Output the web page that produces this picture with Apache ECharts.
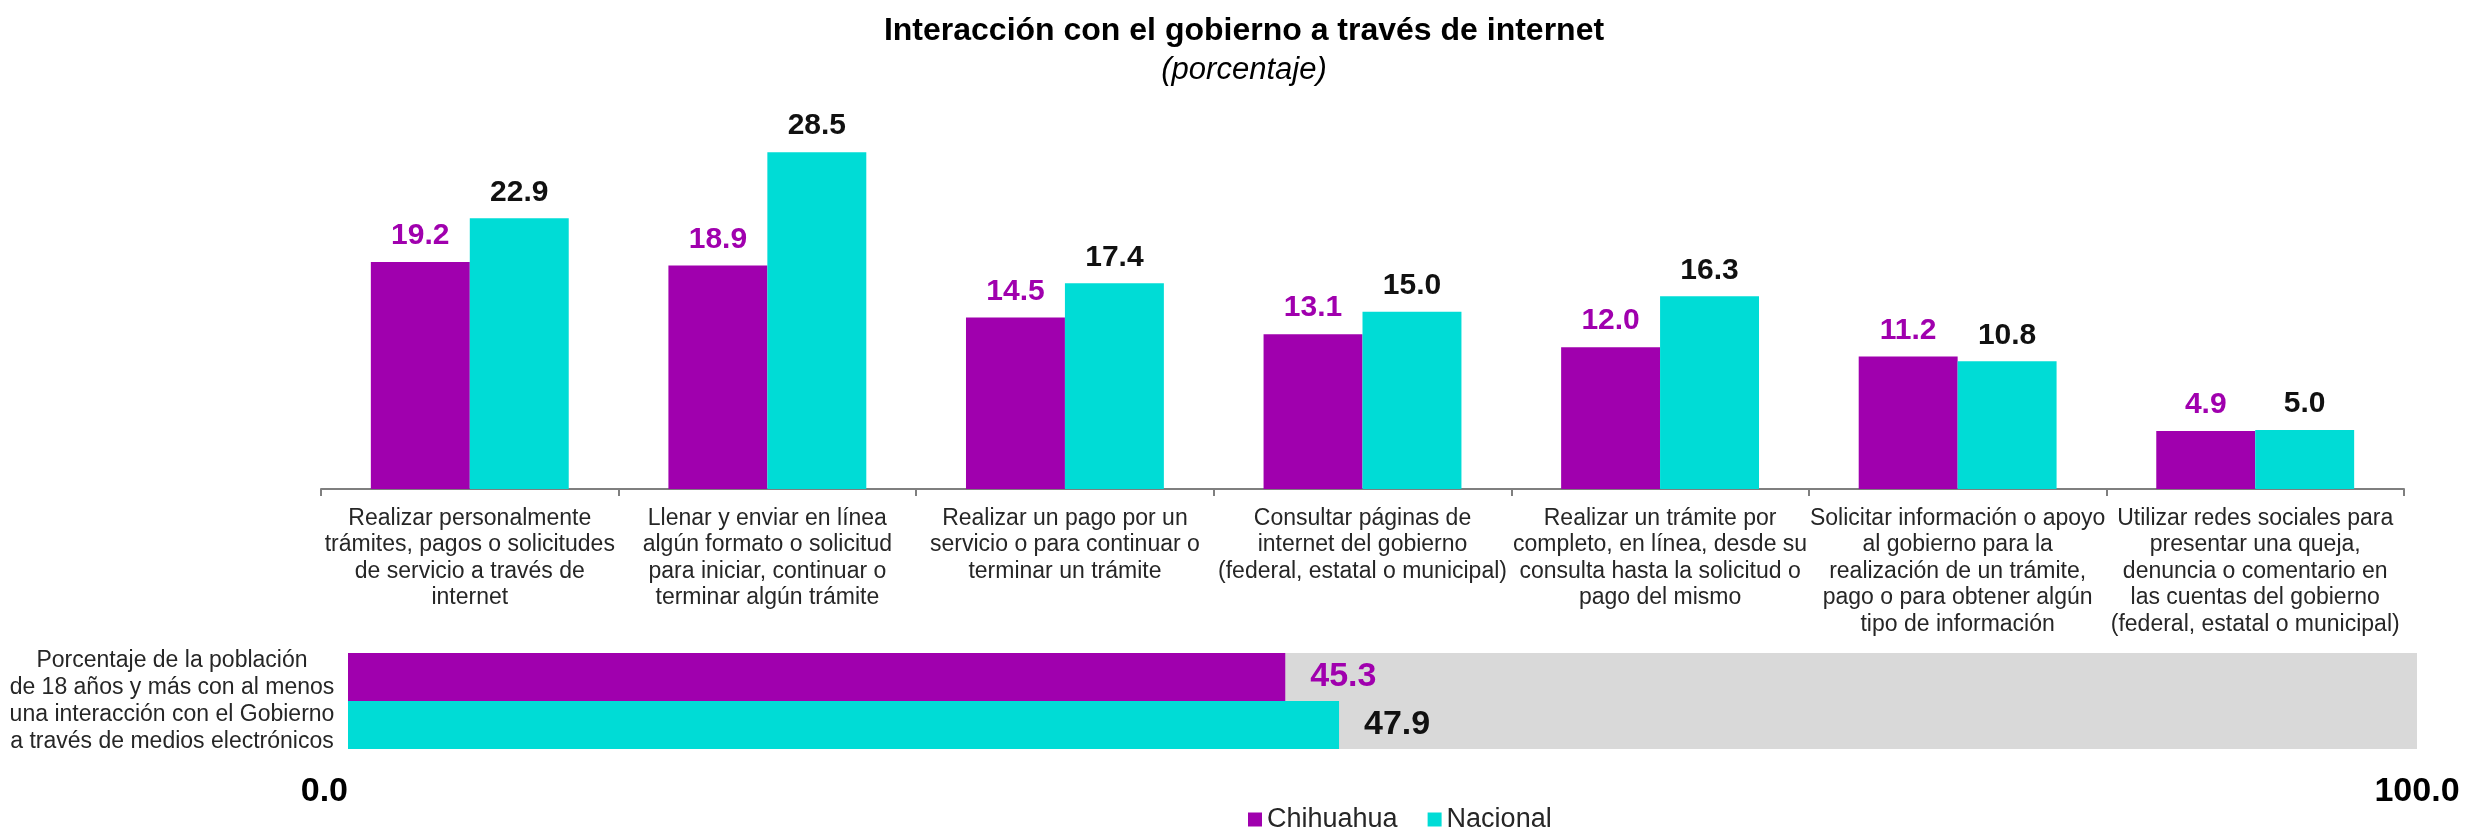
<!DOCTYPE html>
<html>
<head>
<meta charset="utf-8">
<title>Interacción con el gobierno a través de internet</title>
<script src="https://cdn.jsdelivr.net/npm/echarts@6/dist/echarts.min.js"></script>
<style>
	html, body { margin: 0; padding: 0; background: #ffffff; }
	#chart { width: 2488px; height: 830px; }
</style>
</head>
<body>
<div id="chart"></div>
<script>
// categories of the upper chart (line breaks as in the original)
const categories = [
	'Realizar personalmente\ntrámites, pagos o solicitudes\nde servicio a través de\ninternet',
	'Llenar y enviar en línea\nalgún formato o solicitud\npara iniciar, continuar o\nterminar algún trámite',
	'Realizar un pago por un\nservicio o para continuar o\nterminar un trámite',
	'Consultar páginas de\ninternet del gobierno\n(federal, estatal o municipal)',
	'Realizar un trámite por\ncompleto, en línea, desde su\nconsulta hasta la solicitud o\npago del mismo',
	'Solicitar información o apoyo\nal gobierno para la\nrealización de un trámite,\npago o para obtener algún\ntipo de información',
	'Utilizar redes sociales para\npresentar una queja,\ndenuncia o comentario en\nlas cuentas del gobierno\n(federal, estatal o municipal)'
];
const chihuahua = [19.2, 18.9, 14.5, 13.1, 12.0, 11.2, 4.9];
const nacional = [22.9, 28.5, 17.4, 15.0, 16.3, 10.8, 5.0];

// lower chart: population with at least one interaction
const totalCategory = ['Porcentaje de la población\nde 18 años y más con al menos\nuna interacción con el Gobierno\na través de medios electrónicos'];
const totalChihuahua = [45.3];
const totalNacional = [47.9];

const seriesNames = ['Chihuahua', 'Nacional'];
const colors = ['#A000AE', '#00DCD6'];
const labelColors = ['#A000AE', '#111111'];

const sans = "'Liberation Sans', Arial, sans-serif";
const narrow = "'Liberation Sans Narrow', 'Liberation Sans', Arial, sans-serif";

const fmt = (p) => p.value.toFixed(1);

function topSeries(i, data) {
	return {
		name: seriesNames[i],
		type: 'bar',
		xAxisIndex: 0,
		yAxisIndex: 0,
		data: data,
		itemStyle: { color: colors[i] },
		barGap: '0%',
		barCategoryGap: '33.5%',
		label: {
			show: true,
			position: 'top',
			distance: 11,
			formatter: fmt,
			color: labelColors[i],
			fontFamily: narrow,
			fontWeight: 'bold',
			fontSize: 30
		}
	};
}

function bottomSeries(i, data) {
	return {
		name: seriesNames[i],
		type: 'bar',
		xAxisIndex: 1,
		yAxisIndex: 1,
		data: data,
		itemStyle: { color: colors[i] },
		barGap: '0%',
		barCategoryGap: '0%',
		label: {
			show: true,
			position: 'right',
			distance: 25,
			formatter: fmt,
			color: labelColors[i],
			fontFamily: narrow,
			fontWeight: 'bold',
			fontSize: 34
		}
	};
}

const chart = echarts.init(document.getElementById('chart'), null, { renderer: 'canvas' });

chart.setOption({
	animation: false,
	backgroundColor: '#ffffff',
	textStyle: { fontFamily: sans },
	title: {
		text: 'Interacción con el gobierno a través de internet',
		subtext: '(porcentaje)',
		left: 'center',
		top: 10,
		itemGap: 8,
		textStyle: { fontFamily: sans, fontWeight: 'bold', fontSize: 32, color: '#000000' },
		subtextStyle: { fontFamily: sans, fontStyle: 'italic', fontSize: 31, color: '#000000' }
	},
	legend: {
		data: seriesNames,
		left: 1243,
		top: 801,
		icon: 'rect',
		itemWidth: 14,
		itemHeight: 14,
		itemGap: 30,
		textStyle: { fontFamily: sans, fontSize: 27, color: '#262626' }
	},
	grid: [
		{ left: 321, right: 84, top: 134.4, bottom: 341 },
		{
			left: 348, right: 71, top: 653, height: 96,
			show: true, backgroundColor: '#D9D9D9', borderWidth: 0
		}
	],
	xAxis: [
		{
			type: 'category',
			gridIndex: 0,
			data: categories,
			axisLine: { lineStyle: { color: '#7F7F7F', width: 2 } },
			axisTick: { show: true, length: 7, lineStyle: { color: '#7F7F7F', width: 2 } },
			axisLabel: {
				interval: 0,
				margin: 16,
				fontFamily: sans,
				fontSize: 23,
				lineHeight: 26.5,
				color: '#262626'
			}
		},
		{
			type: 'value',
			gridIndex: 1,
			min: 0,
			max: 100,
			interval: 100,
			axisLine: { show: false },
			axisTick: { show: false },
			splitLine: { show: false },
			axisLabel: {
				margin: 26,
				formatter: (v) => v.toFixed(1),
				alignMinLabel: 'right',
				fontFamily: sans,
				fontWeight: 'bold',
				fontSize: 34,
				color: '#000000'
			}
		}
	],
	yAxis: [
		{
			type: 'value',
			gridIndex: 0,
			min: 0,
			max: 30,
			show: false
		},
		{
			type: 'category',
			gridIndex: 1,
			data: totalCategory,
			inverse: true,
			axisLine: { show: false },
			axisTick: { show: false },
			axisLabel: {
				align: 'center',
				margin: 176,
				padding: [10, 0, 0, 0],
				fontFamily: sans,
				fontSize: 23,
				lineHeight: 27,
				color: '#262626'
			}
		}
	],
	series: [
		topSeries(0, chihuahua),
		topSeries(1, nacional),
		bottomSeries(0, totalChihuahua),
		bottomSeries(1, totalNacional)
	]
});

window.addEventListener('resize', function () {
	chart.resize();
});
</script>
</body>
</html>
